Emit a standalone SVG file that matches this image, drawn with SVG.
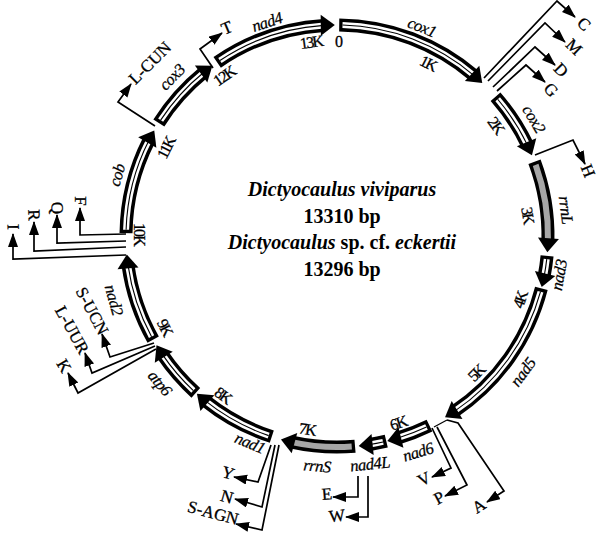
<svg xmlns="http://www.w3.org/2000/svg" width="600" height="536" viewBox="0 0 600 536">
<style>
.bo{fill:none;stroke:#000;stroke-width:13}
.bw{fill:none;stroke:#fff;stroke-width:6}
.bg{fill:none;stroke:#a6a6a6;stroke-width:6}
.bc{fill:none;stroke:#000;stroke-width:1.1}
.ln{fill:none;stroke:#000;stroke-width:1.7;marker-end:url(#ar)}
.th{fill:none;stroke:#000;stroke-width:1.2}
text{text-anchor:middle;dominant-baseline:central;font-family:"Liberation Serif","Times New Roman",serif}
.gn{font-style:italic;font-size:16.5px;letter-spacing:-0.5px;stroke:#000;stroke-width:0.25}
.tk{font-size:16px;letter-spacing:-1.8px;stroke:#000;stroke-width:0.3}
.tr{font-size:17px;stroke:#000;stroke-width:0.3}
.ct{font-size:20px;font-weight:bold;dominant-baseline:auto}
</style>
<defs>
<path id="ah" d="M337,25 L323,14.5 L323,35.5 Z"/>
<marker id="ar" markerUnits="userSpaceOnUse" markerWidth="15" markerHeight="11" refX="13" refY="5" orient="auto"><path d="M0,0 L14,5 L0,10 Z"/></marker>
</defs>
<rect width="600" height="536" fill="#fff"/>

<g id="cox1">
<circle class="bo" cx="337" cy="236" r="211" pathLength="360" stroke-dasharray="39.9 400" transform="rotate(-89.4 337 236)"/>
<circle class="bw" cx="337" cy="236" r="211" pathLength="360" stroke-dasharray="39 400" transform="rotate(-88.5 337 236)"/>
<circle class="bc" cx="337" cy="236" r="211" pathLength="360" stroke-dasharray="39 400" transform="rotate(-88.5 337 236)"/>
<use href="#ah" transform="rotate(43.5 337 236)"/>
<text class="gn" transform="translate(422 27) rotate(22)">cox1</text>
</g>
<g id="cox2">
<circle class="bo" cx="337" cy="236" r="211" pathLength="360" stroke-dasharray="15.8 400" transform="rotate(-41.3 337 236)"/>
<circle class="bw" cx="337" cy="236" r="211" pathLength="360" stroke-dasharray="14.9 400" transform="rotate(-40.4 337 236)"/>
<circle class="bc" cx="337" cy="236" r="211" pathLength="360" stroke-dasharray="14.9 400" transform="rotate(-40.4 337 236)"/>
<use href="#ah" transform="rotate(67.5 337 236)"/>
<text class="gn" transform="translate(534 119) rotate(59)">cox2</text>
</g>
<g id="rrnL">
<circle class="bo" cx="337" cy="236" r="211" pathLength="360" stroke-dasharray="22 400" transform="rotate(-20.6 337 236)"/>
<circle class="bg" cx="337" cy="236" r="211" pathLength="360" stroke-dasharray="21.1 400" transform="rotate(-19.7 337 236)"/>
<use href="#ah" transform="rotate(94.4 337 236)"/>
<text class="gn" transform="translate(566 210) rotate(83)">rrnL</text>
</g>
<g id="nad3">
<circle class="bo" cx="337" cy="236" r="211" pathLength="360" stroke-dasharray="5.6 400" transform="rotate(5.4 337 236)"/>
<circle class="bw" cx="337" cy="236" r="211" pathLength="360" stroke-dasharray="4.7 400" transform="rotate(6.3 337 236)"/>
<circle class="bc" cx="337" cy="236" r="211" pathLength="360" stroke-dasharray="4.7 400" transform="rotate(6.3 337 236)"/>
<use href="#ah" transform="rotate(104 337 236)"/>
<text class="gn" transform="translate(559 275) rotate(-80)">nad3</text>
</g>
<g id="nad5">
<circle class="bo" cx="337" cy="236" r="211" pathLength="360" stroke-dasharray="41.8 400" transform="rotate(14.4 337 236)"/>
<circle class="bw" cx="337" cy="236" r="211" pathLength="360" stroke-dasharray="40.9 400" transform="rotate(15.3 337 236)"/>
<circle class="bc" cx="337" cy="236" r="211" pathLength="360" stroke-dasharray="40.9 400" transform="rotate(15.3 337 236)"/>
<use href="#ah" transform="rotate(149.2 337 236)"/>
<text class="gn" transform="translate(523 372) rotate(-54)">nad5</text>
</g>
<g id="nad6">
<circle class="bo" cx="337" cy="236" r="211" pathLength="360" stroke-dasharray="9.2 400" transform="rotate(64 337 236)"/>
<circle class="bw" cx="337" cy="236" r="211" pathLength="360" stroke-dasharray="8.3 400" transform="rotate(64.9 337 236)"/>
<circle class="bc" cx="337" cy="236" r="211" pathLength="360" stroke-dasharray="8.3 400" transform="rotate(64.9 337 236)"/>
<use href="#ah" transform="rotate(166.2 337 236)"/>
<text class="gn" transform="translate(418 452) rotate(-17)">nad6</text>
</g>
<g id="nad4L">
<circle class="bo" cx="337" cy="236" r="211" pathLength="360" stroke-dasharray="4.6 400" transform="rotate(76.5 337 236)"/>
<circle class="bw" cx="337" cy="236" r="211" pathLength="360" stroke-dasharray="3.7 400" transform="rotate(77.4 337 236)"/>
<circle class="bc" cx="337" cy="236" r="211" pathLength="360" stroke-dasharray="3.7 400" transform="rotate(77.4 337 236)"/>
<use href="#ah" transform="rotate(174.1 337 236)"/>
<text class="gn" transform="translate(370 464) rotate(-6)">nad4L</text>
</g>
<g id="rrnS">
<circle class="bo" cx="337" cy="236" r="211" pathLength="360" stroke-dasharray="17.3 400" transform="rotate(85.1 337 236)"/>
<circle class="bg" cx="337" cy="236" r="211" pathLength="360" stroke-dasharray="16.4 400" transform="rotate(86 337 236)"/>
<use href="#ah" transform="rotate(195.4 337 236)"/>
<text class="gn" transform="translate(317 466) rotate(5)">rrnS</text>
</g>
<g id="nad1">
<circle class="bo" cx="337" cy="236" r="211" pathLength="360" stroke-dasharray="20.6 400" transform="rotate(108 337 236)"/>
<circle class="bw" cx="337" cy="236" r="211" pathLength="360" stroke-dasharray="19.7 400" transform="rotate(108.9 337 236)"/>
<circle class="bc" cx="337" cy="236" r="211" pathLength="360" stroke-dasharray="19.7 400" transform="rotate(108.9 337 236)"/>
<use href="#ah" transform="rotate(221.6 337 236)"/>
<text class="gn" transform="translate(250 443) rotate(23)">nad1</text>
</g>
<g id="atp6">
<circle class="bo" cx="337" cy="236" r="211" pathLength="360" stroke-dasharray="13.8 400" transform="rotate(132 337 236)"/>
<circle class="bw" cx="337" cy="236" r="211" pathLength="360" stroke-dasharray="12.9 400" transform="rotate(132.9 337 236)"/>
<circle class="bc" cx="337" cy="236" r="211" pathLength="360" stroke-dasharray="12.9 400" transform="rotate(132.9 337 236)"/>
<use href="#ah" transform="rotate(238.8 337 236)"/>
<text class="gn" transform="translate(160 383) rotate(50)">atp6</text>
</g>
<g id="nad2">
<circle class="bo" cx="337" cy="236" r="211" pathLength="360" stroke-dasharray="21.4 400" transform="rotate(150.6 337 236)"/>
<circle class="bw" cx="337" cy="236" r="211" pathLength="360" stroke-dasharray="20.5 400" transform="rotate(151.5 337 236)"/>
<circle class="bc" cx="337" cy="236" r="211" pathLength="360" stroke-dasharray="20.5 400" transform="rotate(151.5 337 236)"/>
<use href="#ah" transform="rotate(265 337 236)"/>
<text class="gn" transform="translate(114 300) rotate(74)">nad2</text>
</g>
<g id="cob">
<circle class="bo" cx="337" cy="236" r="211" pathLength="360" stroke-dasharray="26.2 400" transform="rotate(180.8 337 236)"/>
<circle class="bw" cx="337" cy="236" r="211" pathLength="360" stroke-dasharray="25.3 400" transform="rotate(181.7 337 236)"/>
<circle class="bc" cx="337" cy="236" r="211" pathLength="360" stroke-dasharray="25.3 400" transform="rotate(181.7 337 236)"/>
<use href="#ah" transform="rotate(300 337 236)"/>
<text class="gn" transform="translate(117 175) rotate(-74.5)">cob</text>
</g>
<g id="cox3">
<circle class="bo" cx="337" cy="236" r="211" pathLength="360" stroke-dasharray="18.4 400" transform="rotate(212.4 337 236)"/>
<circle class="bw" cx="337" cy="236" r="211" pathLength="360" stroke-dasharray="17.5 400" transform="rotate(213.3 337 236)"/>
<circle class="bc" cx="337" cy="236" r="211" pathLength="360" stroke-dasharray="17.5 400" transform="rotate(213.3 337 236)"/>
<use href="#ah" transform="rotate(323.8 337 236)"/>
<text class="gn" transform="translate(172 77) rotate(-46)">cox3</text>
</g>
<g id="nad4">
<circle class="bo" cx="337" cy="236" r="211" pathLength="360" stroke-dasharray="31 400" transform="rotate(235.4 337 236)"/>
<circle class="bw" cx="337" cy="236" r="211" pathLength="360" stroke-dasharray="30.1 400" transform="rotate(236.3 337 236)"/>
<circle class="bc" cx="337" cy="236" r="211" pathLength="360" stroke-dasharray="30.1 400" transform="rotate(236.3 337 236)"/>
<use href="#ah" transform="rotate(359.4 337 236)"/>
<text class="gn" transform="translate(267 22) rotate(-18)">nad4</text>
</g>

<g id="ticks">
<text class="tk" transform="translate(338 41)">0</text>
<text class="tk" transform="translate(428 63) rotate(27)">1K</text>
<text class="tk" transform="translate(496 125) rotate(54)">2K</text>
<text class="tk" transform="translate(528 215) rotate(81)">3K</text>
<text class="tk" transform="translate(520 300) rotate(-72)">4K</text>
<text class="tk" transform="translate(476 373) rotate(-45)">5K</text>
<text class="tk" transform="translate(398 423) rotate(-18)">6K</text>
<text class="tk" transform="translate(307 429) rotate(9)">7K</text>
<text class="tk" transform="translate(223 395) rotate(36)">8K</text>
<text class="tk" transform="translate(165 327) rotate(63)">9K</text>
<text class="tk" transform="translate(139 234) rotate(90)">10K</text>
<text class="tk" transform="translate(166 148) rotate(-63)">11K</text>
<text class="tk" transform="translate(224 76) rotate(-35)">12K</text>
<text class="tk" transform="translate(311 42) rotate(-8)">13K</text>
</g>

<g id="connectors">
<polyline class="ln" points="484,78 557,1 575,17"/>
<polyline class="ln" points="488,81 545,23 565,42"/>
<polyline class="ln" points="493,87 535,47 555,65"/>
<polyline class="ln" points="497,91 526,65 545,82"/>
<polyline class="ln" points="535,155 573,140 585,164"/>
<polyline class="th" points="434,427 447,420"/>
<polyline class="ln" points="447,420 458,423 504,491 487,502"/>
<polyline class="ln" points="437,427 467,485 445,496"/>
<polyline class="ln" points="432,428 451,468 432,477"/>
<polyline class="ln" points="358,476 358,497 333,497"/>
<polyline class="ln" points="368,476 368,517 346,517"/>
<polyline class="ln" points="271,445 258,482 234,477"/>
<polyline class="ln" points="275,445 262,507 235,499"/>
<polyline class="ln" points="279,445 262,530 236,524"/>
<polyline class="ln" points="156,349 78,393 68,373"/>
<polyline class="ln" points="155,346 92,373 85,353"/>
<polyline class="ln" points="154,343 110,357 102,334"/>
<polyline class="ln" points="126,255 13,259 13,234"/>
<polyline class="ln" points="126,247 34,251 34,222"/>
<polyline class="ln" points="126,241 57,243 57,215"/>
<polyline class="ln" points="126,234 80,235 80,208"/>
<polyline class="ln" points="155,126 118,102 131,84"/>
<polyline class="ln" points="213,68 200,49 222,33"/>
</g>

<g id="trna-labels">
<text class="tr" transform="translate(584 24) rotate(43)">C</text>
<text class="tr" transform="translate(574 47) rotate(44)">M</text>
<text class="tr" transform="translate(561 70) rotate(46)">D</text>
<text class="tr" transform="translate(551 90) rotate(48)">G</text>
<text class="tr" transform="translate(588 171) rotate(68)">H</text>
<text class="tr" transform="translate(479 506) rotate(-33)">A</text>
<text class="tr" transform="translate(439 498) rotate(-28)">P</text>
<text class="tr" transform="translate(424 479) rotate(-26)">V</text>
<text class="tr" transform="translate(327 494) rotate(-5)">E</text>
<text class="tr" transform="translate(337 516) rotate(-6)">W</text>
<text class="tr" transform="translate(228 473) rotate(17)">Y</text>
<text class="tr" transform="translate(227 497) rotate(16)">N</text>
<text class="tr" transform="translate(213 513) rotate(15)">S-AGN</text>
<text class="tr" transform="translate(64 366) rotate(59)">K</text>
<text class="tr" transform="translate(72 330) rotate(61)">L-UUR</text>
<text class="tr" transform="translate(92 311) rotate(62)">S-UCN</text>
<text class="tr" transform="translate(13 227) rotate(88)">I</text>
<text class="tr" transform="translate(34 215) rotate(88)">R</text>
<text class="tr" transform="translate(57 208) rotate(89)">Q</text>
<text class="tr" transform="translate(80 201) rotate(90)">F</text>
<text class="tr" transform="translate(150 63) rotate(-45)">L-CUN</text>
<text class="tr" transform="translate(227 28) rotate(-23)">T</text>
</g>

<g id="title">
<text class="ct" x="342" y="196"><tspan font-style="italic">Dictyocaulus viviparus</tspan></text>
<text class="ct" x="342" y="223">13310 bp</text>
<text class="ct" x="342" y="249"><tspan font-style="italic">Dictyocaulus</tspan> sp. cf. <tspan font-style="italic">eckertii</tspan></text>
<text class="ct" x="342" y="276">13296 bp</text>
</g>
</svg>
